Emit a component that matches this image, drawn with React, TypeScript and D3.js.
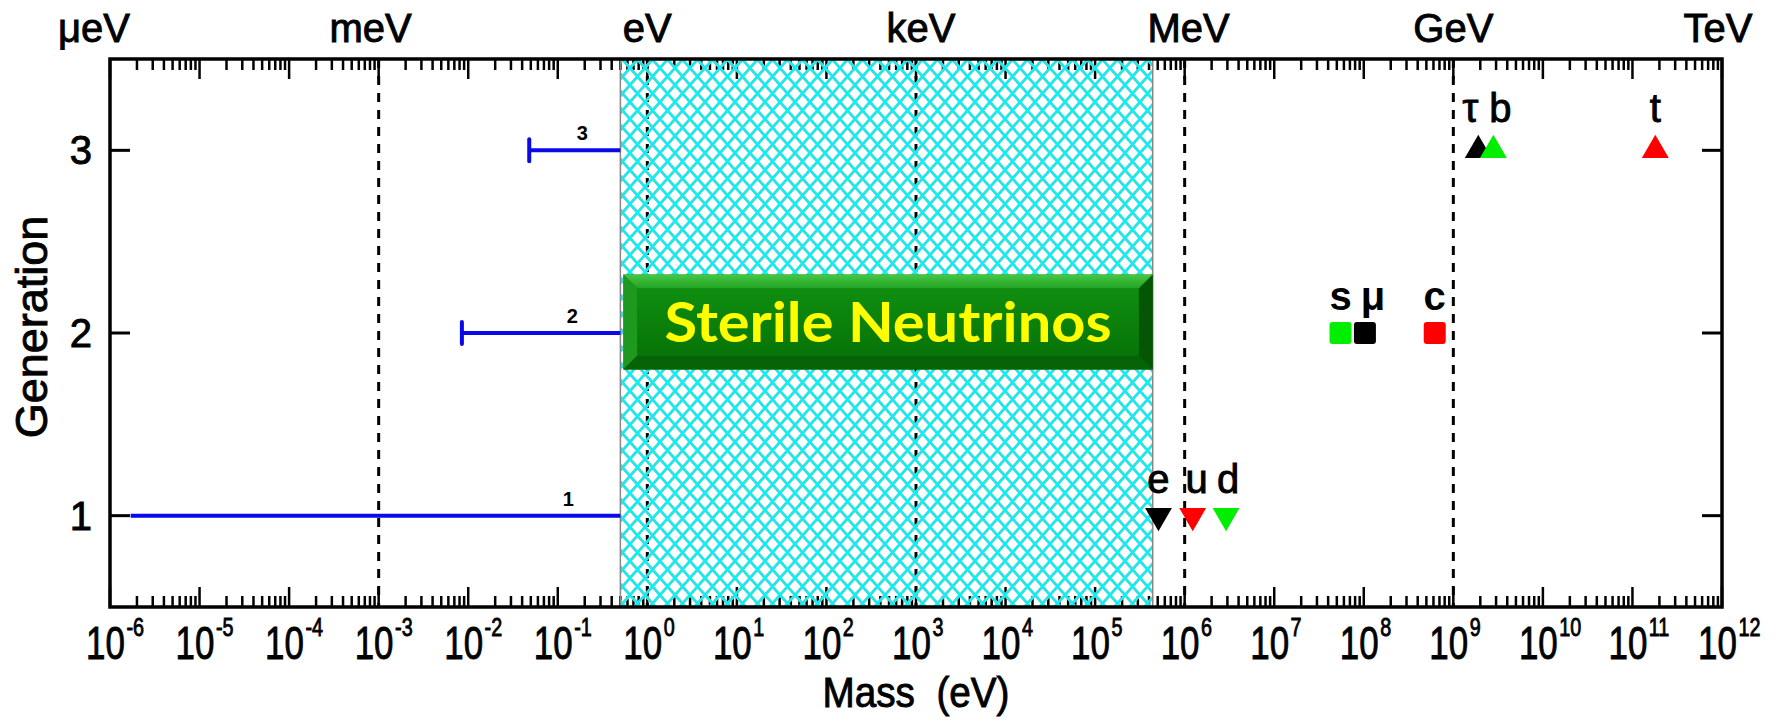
import React from 'react';
import * as d3 from 'd3';

// axis ticks / labels
const massExponents = [-6, -5, -4, -3, -2, -1, 0, 1, 2, 3, 4, 5, 6, 7, 8, 9, 10, 11, 12];
const unitLabels = ['μeV', 'meV', 'eV', 'keV', 'MeV', 'GeV', 'TeV'];
const unitMasses = [1e-6, 1e-3, 1, 1e3, 1e6, 1e9, 1e12];
const dashedMasses = [1e-3, 1, 1e3, 1e6, 1e9];
const generations = [1, 2, 3];

// active neutrino mass ranges (eV)
const neutrinoLabels = ['1', '2', '3'];
const neutrinoMin = [1.7e-6, 0.0085, 0.048];
const neutrinoMax = [0.5, 0.5, 0.5];
const neutrinoLabelMass = [0.131, 0.145, 0.188];

// sterile neutrino window
const sterileMass = [0.5, 4.4e5];
const sterileBand = [1.8, 2.32];
const sterileText = 'Sterile Neutrinos';

// charged fermions
const particleNames = ['e', 'u', 'd', 's', 'μ', 'c', 'τ', 'b', 't'];
const particleMasses = [5.1e5, 1.23e6, 2.9e6, 5.5e7, 1.03e8, 6.2e8, 1.9e9, 2.8e9, 1.8e11];
const particleGens = [1, 1, 1, 2, 2, 2, 3, 3, 3];

const particleColors = ['#000', '#ff0000', '#00ee00', '#00ee00', '#000', '#ff0000', '#000', '#00ee00', '#ff0000'];
const labelDx = [0, 4, 2, 0, 8, 0, -8, 7, 0];
const unitDx = [-16, -8, 0, 5, 4, 0, -4];

const W = 1780;
const H = 721;
const margin = { left: 110, right: 58, top: 59, bottom: 114 };
const font = '"Liberation Sans", Arial, sans-serif';
// slightly heavier text, like the original export
const heavy = { stroke: '#000', strokeWidth: 0.9 };

const App = () => {
  const x = d3.scaleLog().domain([1e-6, 1e12]).range([margin.left, W - margin.right]);
  const y = d3.scaleLinear().domain([0.5, 3.5]).range([H - margin.bottom, margin.top]);
  const [x0, x1] = x.range();
  const [yb, yt] = y.range();

  const minorTicks: number[] = [];
  massExponents.slice(0, -1).forEach((e) => {
    for (let k = 2; k <= 9; k++) minorTicks.push(k * Math.pow(10, e));
  });

  const tri = d3.symbol().type(d3.symbolTriangle).size(315)();

  // sterile box geometry
  const bx0 = x(sterileMass[0]) + 3;
  const bx1 = x(sterileMass[1]);
  const by0 = y(sterileBand[1]);
  const by1 = y(sterileBand[0]);
  const bv = 14;

  return (
    <div style={{ position: 'absolute', left: 0, top: 0 }}>
      <svg width={W} height={H} style={{ display: 'block', background: '#fff' }}>
        <defs>
          <pattern id="hatch" patternUnits="userSpaceOnUse" width={15} height={17}>
            <path d="M-7.5,-8.5L22.5,25.5M22.5,-8.5L-7.5,25.5" stroke="#9fbcbf" strokeWidth={3} fill="none" />
            <path d="M-7.5,-8.5L22.5,25.5M22.5,-8.5L-7.5,25.5" stroke="#00f6f6" strokeWidth={2.1} fill="none" />
          </pattern>
          <linearGradient id="face" x1="0" y1="0" x2="0" y2="1">
            <stop offset="0" stopColor="#0f8e0f" />
            <stop offset="1" stopColor="#077407" />
          </linearGradient>
          <linearGradient id="topBev" x1="0" y1="0" x2="0" y2="1">
            <stop offset="0" stopColor="#45c845" />
            <stop offset="1" stopColor="#23a323" />
          </linearGradient>
        </defs>

        {/* dashed unit lines */}
        {dashedMasses.map((m) => (
          <line key={m} x1={x(m)} x2={x(m)} y1={yt} y2={yb} stroke="#000" strokeWidth={3} strokeDasharray="9,8" />
        ))}

        {/* ticks */}
        {massExponents.map((e) => {
          const px = x(Math.pow(10, e));
          return (
            <g key={e} stroke="#000" strokeWidth={2.5}>
              <line x1={px} x2={px} y1={yb} y2={yb - 20} />
              <line x1={px} x2={px} y1={yt} y2={yt + 20} />
            </g>
          );
        })}
        {minorTicks.map((m) => (
          <g key={m} stroke="#000" strokeWidth={2.5}>
            <line x1={x(m)} x2={x(m)} y1={yb} y2={yb - 11} />
            <line x1={x(m)} x2={x(m)} y1={yt} y2={yt + 11} />
          </g>
        ))}
        {generations.map((g) => (
          <g key={g} stroke="#000" strokeWidth={3}>
            <line x1={x0} x2={x0 + 20} y1={y(g)} y2={y(g)} />
            <line x1={x1} x2={x1 - 20} y1={y(g)} y2={y(g)} />
          </g>
        ))}

        {/* sterile neutrino hatched window */}
        <rect
          x={x(sterileMass[0])}
          y={yt}
          width={x(sterileMass[1]) - x(sterileMass[0])}
          height={yb - yt}
          fill="url(#hatch)"
          stroke="#888"
          strokeWidth={1.5}
        />

        {/* active neutrino ranges */}
        {neutrinoMin.map((m, i) => {
          const py = y(generations[i]);
          return (
            <g key={i}>
              <line x1={x(m)} x2={x(neutrinoMax[i])} y1={py} y2={py} stroke="#0a0ae8" strokeWidth={4} />
              {i > 0 && <line x1={x(m)} x2={x(m)} y1={py - 11} y2={py + 11} stroke="#0a0ae8" strokeWidth={4} strokeLinecap="round" />}
              <text x={x(neutrinoLabelMass[i])} y={py - 10} fontFamily={font} fontWeight="bold" fontSize={20} textAnchor="middle">
                {neutrinoLabels[i]}
              </text>
            </g>
          );
        })}

        {/* sterile neutrino box */}
        <g>
          <rect x={bx0} y={by0} width={bx1 - bx0} height={by1 - by0} fill="#0a7a0a" />
          <polygon points={`${bx0},${by0} ${bx1},${by0} ${bx1 - bv},${by0 + bv} ${bx0 + bv},${by0 + bv}`} fill="url(#topBev)" />
          <polygon points={`${bx0},${by0} ${bx0 + bv},${by0 + bv} ${bx0 + bv},${by1 - bv} ${bx0},${by1}`} fill="#1e981e" />
          <polygon points={`${bx1},${by0} ${bx1},${by1} ${bx1 - bv},${by1 - bv} ${bx1 - bv},${by0 + bv}`} fill="#045604" />
          <polygon points={`${bx0},${by1} ${bx0 + bv},${by1 - bv} ${bx1 - bv},${by1 - bv} ${bx1},${by1}`} fill="#066206" />
          <rect x={bx0 + bv} y={by0 + bv} width={bx1 - bx0 - 2 * bv} height={by1 - by0 - 2 * bv} fill="url(#face)" />
          <text
            x={(bx0 + bx1) / 2}
            y={(by0 + by1) / 2 + 20}
            textAnchor="middle"
            fontFamily="Lato, 'Open Sans', sans-serif"
            fontWeight="bold"
            fontSize={56}
            fill="#ffff00"
            textLength={447}
            lengthAdjust="spacingAndGlyphs"
          >
            {sterileText}
          </text>
        </g>

        {/* charged fermions */}
        {particleMasses.map((m, i) => {
          const g = particleGens[i];
          const px = x(m);
          const py = y(g);
          const bold = g === 2;
          return (
            <g key={particleNames[i]}>
              {g === 2 ? (
                <rect x={px - 11} y={py - 11} width={22} height={22} rx={3} fill={particleColors[i]} />
              ) : (
                <path d={tri} transform={`translate(${px},${py}) rotate(${g === 1 ? 180 : 0})`} fill={particleColors[i]} />
              )}
              <text
                x={px + labelDx[i]}
                y={py - (g === 3 ? 28 : 23)}
                textAnchor="middle"
                fontFamily={font}
                fontWeight={bold ? 'bold' : 'normal'}
                fontSize={40}
                {...(bold ? {} : heavy)}
              >
                {particleNames[i]}
              </text>
            </g>
          );
        })}

        {/* frame */}
        <rect x={x0} y={yt} width={x1 - x0} height={yb - yt} fill="none" stroke="#000" strokeWidth={3.5} />

        {/* bottom tick labels */}
        {massExponents.map((e) => (
          <g key={e} transform={`translate(${x(Math.pow(10, e)) - 24},659) scale(0.76,1)`}>
            <text x={0} y={0} fontFamily={font} fontSize={46} {...heavy}>
              10
              <tspan dx={2} dy={-23} fontSize={26}>
                {e}
              </tspan>
            </text>
          </g>
        ))}

        {/* top unit labels */}
        {unitLabels.map((u, i) => (
          <text key={u} x={x(unitMasses[i]) + unitDx[i]} y={42} textAnchor="middle" fontFamily={font} fontSize={40} {...heavy}>
            {u}
          </text>
        ))}

        {/* y tick labels */}
        {generations.map((g) => (
          <text key={g} x={92} y={y(g) + 14} textAnchor="end" fontFamily={font} fontSize={40} {...heavy}>
            {g}
          </text>
        ))}

        {/* axis titles */}
        <g transform={`translate(${(x0 + x1) / 2},707) scale(0.9,1)`}>
          <text textAnchor="middle" fontFamily={font} fontSize={43} style={{ whiteSpace: 'pre' }} {...heavy}>
            {'Mass  (eV)'}
          </text>
        </g>
        <text transform={`translate(47,${y(2) - 6}) rotate(-90)`} textAnchor="middle" fontFamily={font} fontSize={45} {...heavy}>
          Generation
        </text>
      </svg>
    </div>
  );
};

export default App;
